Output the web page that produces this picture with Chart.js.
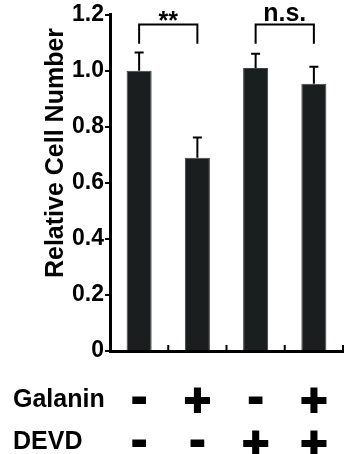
<!DOCTYPE html>
<html>
<head>
<meta charset="utf-8">
<script src="https://cdn.jsdelivr.net/npm/chart.js@4.4.1/dist/chart.umd.min.js"></script>
<style>
    html, body { margin: 0; padding: 0; background: #fff; }
    #wrap { width: 345px; height: 454px; position: relative; }
</style>
</head>
<body>
<div id="wrap"><canvas id="cells"></canvas></div>
<script>
const categories = ["Control", "Galanin", "DEVD", "Galanin + DEVD"];
const means = [1.0, 0.69, 1.01, 0.954];
const errors = [0.065, 0.072, 0.051, 0.061];
const yTickLabels = ["0", "0.2", "0.4", "0.6", "0.8", "1.0", "1.2"];
const galaninRow = ["-", "+", "-", "+"];
const devdRow = ["-", "-", "+", "+"];
const rowTitles = ["Galanin", "DEVD"];
const bracketPairs = [[0, 1], [2, 3]];
const bracketLabels = ["**", "n.s."];
const bracketTop = 1.165;
const bracketLeg = 1.097;

const FONT = "'Liberation Sans', Arial, sans-serif";

// draw text so that its ink is centred on (x, cy)
var drawCentered = (ctx, text, x, cy, thick) => {
    const m = ctx.measureText(text);
    const y = cy + (m.actualBoundingBoxAscent - m.actualBoundingBoxDescent) / 2;
    ctx.fillText(text, x, y);
    if (thick) {
        ctx.strokeText(text, x, y);
    }
};

const extras = {
    id: "extras",
    afterDatasetsDraw(chart) {
        const ctx = chart.ctx;
        const yScale = chart.scales.y;
        const xScale = chart.scales.x;
        const bars = chart.getDatasetMeta(0).data;
        ctx.save();
        ctx.strokeStyle = "#000";
        ctx.fillStyle = "#000";
        ctx.lineWidth = 2;

        // error bars (upper only)
        bars.forEach((bar, i) => {
            const top = yScale.getPixelForValue(means[i] + errors[i]);
            ctx.beginPath();
            ctx.moveTo(bar.x, bar.y);
            ctx.lineTo(bar.x, top);
            ctx.moveTo(bar.x - 4.5, top);
            ctx.lineTo(bar.x + 4.5, top);
            ctx.stroke();
        });

        // small inner ticks between categories
        const bottom = chart.chartArea.bottom;
        for (let i = 0; i < categories.length; i++) {
            const xb = (xScale.getPixelForValue(i) + xScale.getPixelForValue(i + 1)) / 2;
            const xe = i == categories.length - 1 ? chart.chartArea.right : xb;
            ctx.beginPath();
            ctx.moveTo(xe, bottom);
            ctx.lineTo(xe, bottom - 6);
            ctx.stroke();
        }

        // significance brackets
        const yt = yScale.getPixelForValue(bracketTop);
        const yl = yScale.getPixelForValue(bracketLeg);
        ctx.font = "bold 25px " + FONT;
        ctx.textAlign = "center";
        bracketPairs.forEach((pair, k) => {
            const x1 = bars[pair[0]].x;
            const x2 = bars[pair[1]].x;
            ctx.beginPath();
            ctx.moveTo(x1, yl);
            ctx.lineTo(x1, yt);
            ctx.lineTo(x2, yt);
            ctx.lineTo(x2, yl);
            ctx.stroke();
            drawCentered(ctx, bracketLabels[k], (x1 + x2) / 2, yt - (k == 0 ? 9 : 10.5));
        });

        // treatment rows under the axis
        ctx.textAlign = "left";
        ctx.font = "bold 25px " + FONT;
        drawCentered(ctx, rowTitles[0], 13, bottom + 46);
        drawCentered(ctx, rowTitles[1], 13, bottom + 89);
        ctx.textAlign = "center";
        ctx.font = "bold 46px " + FONT;
        ctx.lineWidth = 2;
        bars.forEach((bar, i) => {
            drawCentered(ctx, galaninRow[i], bar.x, bottom + 48.5, true);
            drawCentered(ctx, devdRow[i], bar.x, bottom + 91.5, true);
        });

        // y axis title
        ctx.font = "bold 25px " + FONT;
        ctx.translate(63, 153);
        ctx.rotate(-Math.PI / 2);
        ctx.textAlign = "center";
        ctx.textBaseline = "alphabetic";
        ctx.fillText("Relative Cell Number", 0, 0);
        ctx.restore();
    },
};

const cellsConfig = {
    type: "bar",
    data: {
        labels: categories,
        datasets: [
            {
                data: means,
                backgroundColor: "#1b1e1e",
                borderColor: "#3c4040",
                borderWidth: 1,
                barPercentage: 0.43,
                categoryPercentage: 1,
            },
        ],
    },
    options: {
        responsive: true,
        maintainAspectRatio: false,
        animation: false,
        layout: {
            padding: { top: 14, right: 2, left: 0, bottom: 0 },
        },
        plugins: {
            legend: { display: false },
            tooltip: { enabled: false },
        },
        scales: {
            x: {
                grid: { display: false },
                border: { display: true, color: "#000", width: 3 },
                ticks: { display: false },
                afterFit: (scale) => { scale.height = 103; },
            },
            y: {
                min: 0,
                max: 1.2,
                ticks: {
                    stepSize: 0.2,
                    padding: 1,
                    color: "#000",
                    font: { family: FONT, size: 23, weight: "bold" },
                    callback: (value, index) => yTickLabels[index],
                },
                grid: {
                    drawOnChartArea: false,
                    drawTicks: true,
                    tickLength: 5,
                    color: "#000",
                    lineWidth: 2,
                },
                border: { display: true, color: "#000", width: 3 },
                afterFit: (scale) => { scale.width = 110; },
            },
        },
    },
    plugins: [extras],
};

var cellsChart = new Chart(document.getElementById("cells"), cellsConfig);
</script>
</body>
</html>
